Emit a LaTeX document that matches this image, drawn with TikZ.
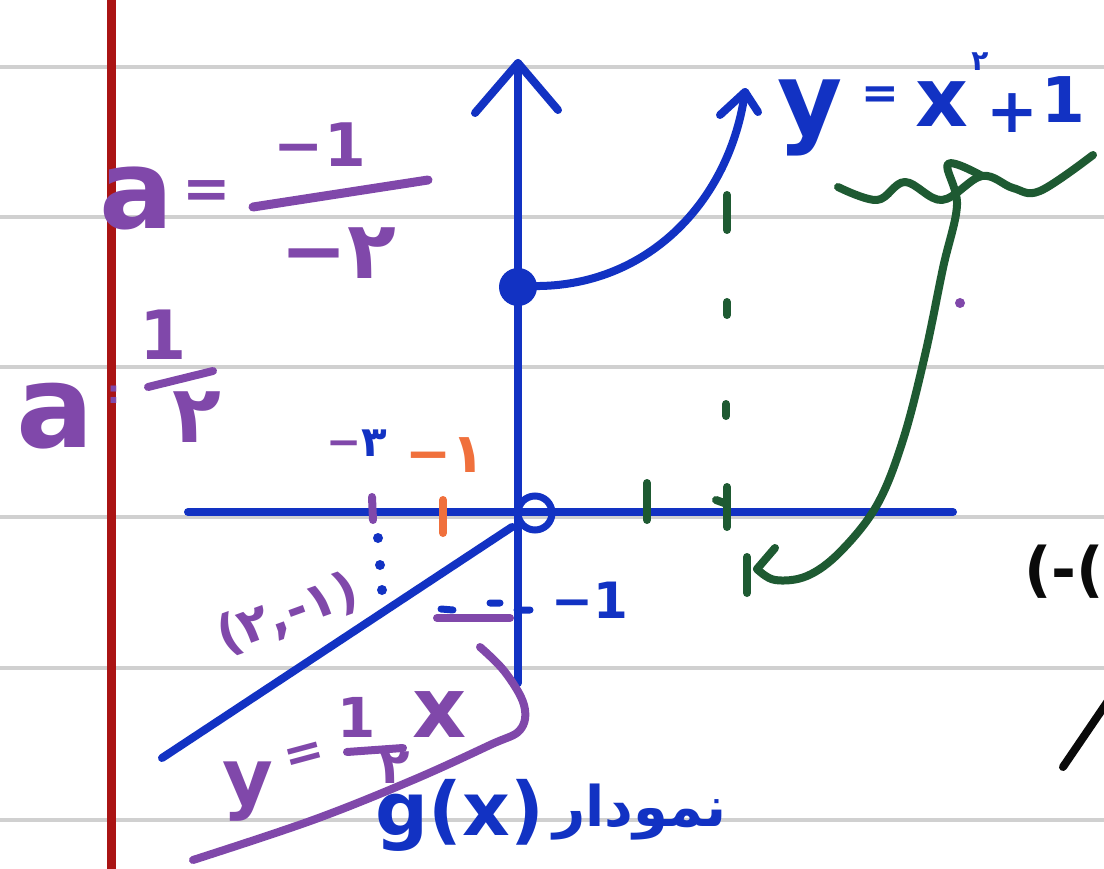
\documentclass[tikz,border=0pt]{standalone}
\usepackage{fontspec}
\setmainfont{DejaVu Sans}
\newfontfamily\arabicfont[Script=Arabic]{DejaVu Sans}
\TeXXeTstate=1
\definecolor{blueink}{RGB}{18,50,195}
\definecolor{purpleink}{RGB}{128,72,170}
\definecolor{greenink}{RGB}{30,90,50}
\definecolor{orangeink}{RGB}{240,112,60}
\definecolor{redmargin}{RGB}{170,20,20}
\definecolor{ruleline}{RGB}{208,208,208}
\definecolor{blackink}{RGB}{10,10,10}
\newcommand\fsz[1]{\fontsize{#1}{#1}\selectfont\bfseries}
\tikzset{
  ink/.style={line width=8pt, line cap=round, line join=round},
  rulestroke/.style={ruleline, line width=4pt},
  txt/.style={inner sep=0pt, outer sep=0pt},
}
\begin{document}
\begin{tikzpicture}[x=1pt,y=-1pt]
\useasboundingbox (0,0) rectangle (1104,869);
\clip (0,0) rectangle (1104,869);
\fill[white] (0,0) rectangle (1104,869);
% ruled paper
\foreach \yy in {67,217,367,517,668,820}
  \draw[rulestroke] (0,\yy) -- (1104,\yy);
\draw[redmargin, line width=9pt] (111,-5) -- (111,875);

% ---------- blue axes and graph ----------
\coordinate (ybot) at (518,683);
\coordinate (ytop) at (518,63);
\coordinate (xl) at (188,512);
\coordinate (xr) at (953,512);
\draw[ink, blueink] (ybot) -- (ytop);
\draw[ink, blueink] (475,113) -- (ytop) -- (558,110);
\draw[ink, blueink] (xl) -- (xr);
\node[circle, fill=blueink, minimum size=38pt, inner sep=0pt] (dot) at (518,287) {};
\coordinate (ctip) at (745,92);
\draw[ink, blueink] (dot.center) -- (540,286) .. controls (650,284) and (730,200) .. (ctip);
\draw[ink, blueink] (720,115) -- (ctip) -- (758,112);
\node[circle, draw=blueink, line width=7pt, minimum size=34pt, inner sep=0pt] (hole) at (535,513) {};
\coordinate (lineend) at (162,758);
\draw[ink, blueink] (512,527) -- (lineend);

% ---------- green marks ----------
\draw[ink, greenink] (647,483) -- (647,520);
\draw[ink, greenink] (716,500) -- (727,504);
\draw[ink, greenink] (727,487) -- (727,527);
\draw[ink, greenink] (727,195) -- (727,230);
\draw[ink, greenink] (727,302) -- (727,315);
\draw[ink, greenink] (726,404) -- (726,416);
\draw[ink, greenink] plot[smooth, tension=0.6] coordinates {(838,187) (877,200) (905,182) (942,200) (982,176) (1013,188) (1040,191) (1093,155)};
\coordinate (garrow) at (757,569);
\draw[ink, greenink] plot[smooth, tension=0.6] coordinates {(982,176) (948,164) (957,205) (943,268) (925,355) (903,440) (877,505) (840,552) (807,576) (775,580) (garrow)};
\draw[ink, greenink] (747,557) -- (747,593);
\draw[ink, greenink] (775,548) -- (garrow);
\fill[purpleink] (960,303) circle (5pt);

% ---------- dotted guides ----------
\draw[ink, purpleink] (372,497) -- (373,520);
\fill[blueink] (378,538) circle (5pt) (380,565) circle (5pt) (382,590) circle (5pt);
\draw[ink, purpleink] (437,618) -- (510,618);
\draw[ink, blueink, line width=7pt] (441,609) -- (453,610) (490,603) -- (500,603) (517,610) -- (530,610);
\draw[ink, orangeink] (443,500) -- (443,533);

% ---------- purple bracket ----------
\draw[ink, purpleink] plot[smooth, tension=0.6] coordinates {(480,647) (505,672) (524,705) (520,730) (490,745) (413,780) (313,820) (193,860)};

% ---------- purple formulas ----------
\node[txt, purpleink, font=\fsz{110}] (a1) at (137,198) {a};
\node[txt, purpleink, font=\fsz{58}] (eq1) at (207,195) {=};
\node[txt, purpleink, font=\fsz{60}] (num1) at (320,145) {−1};
\draw[ink, purpleink, line width=9pt] (253,207) -- (428,180);
\node[txt, purpleink, font=\fsz{80}] (den1) at (338,253) {−۲};

\node[txt, purpleink, font=\fsz{115}] (a2) at (55,416) {a};
\node[txt, purpleink, font=\fsz{32}] (col2) at (114,395) {:};
\node[txt, purpleink, font=\fsz{68}] (num2) at (163,335) {1};
\draw[ink, purpleink] (148,387) -- (213,371);
\node[txt, purpleink, font=\fsz{80}] (den2) at (197,417) {۲};

\node[txt, font=\fsz{42}] (m3) at (357,443) {{\color{purpleink}−}{\color{blueink}۳}};
\node[txt, orangeink, font=\fsz{55}] (m1o) at (445,455) {−۱};
\node[txt, purpleink, font=\fsz{50}, rotate=20] (pt) at (288,614) {(۲,-۱)};
\node[txt, blueink, font=\fsz{50}] (m1b) at (590,600) {−1};

\node[txt, purpleink, font=\fsz{78}] (yb) at (248,792) {y};
\node[txt, purpleink, font=\fsz{48}, rotate=15] (eqb) at (305,757) {=};
\node[txt, purpleink, font=\fsz{55}] (nb) at (357,717) {1};
\draw[ink, purpleink] (347,752) -- (403,748);
\node[txt, purpleink, font=\fsz{50}] (db) at (395,768) {۲};
\node[txt, purpleink, font=\fsz{84}] (xb) at (440,715) {x};

% ---------- blue labels ----------
\node[txt, blueink, font=\fsz{74}] (gx) at (460,815) {g(x)};
\node[txt, blueink, font=\fsz{56}] (namudar) at (640,812) {\arabicfont\bfseries\beginR نمودار\endR};

\node[txt, blueink, font=\fsz{100}] (yt) at (810,118) {y};
\node[txt, blueink, font=\fsz{45}] (eqt) at (880,98) {=};
\node[txt, blueink, font=\fsz{82}] (xt) at (942,104) {x};
\node[txt, blueink, font=\fsz{28}] (sq) at (980,62) {۲};
\node[txt, blueink, font=\fsz{62}] (plus) at (1012,113) {+};
\node[txt, blueink, font=\fsz{63}] (onet) at (1063,100) {1};

% ---------- black fragments at the right edge ----------
\node[txt, blackink, font=\fsz{60}, anchor=west] (blk) at (1024,572) {(-(};
\draw[ink, blackink] (1063,767) -- (1125,676);
\end{tikzpicture}
\end{document}
